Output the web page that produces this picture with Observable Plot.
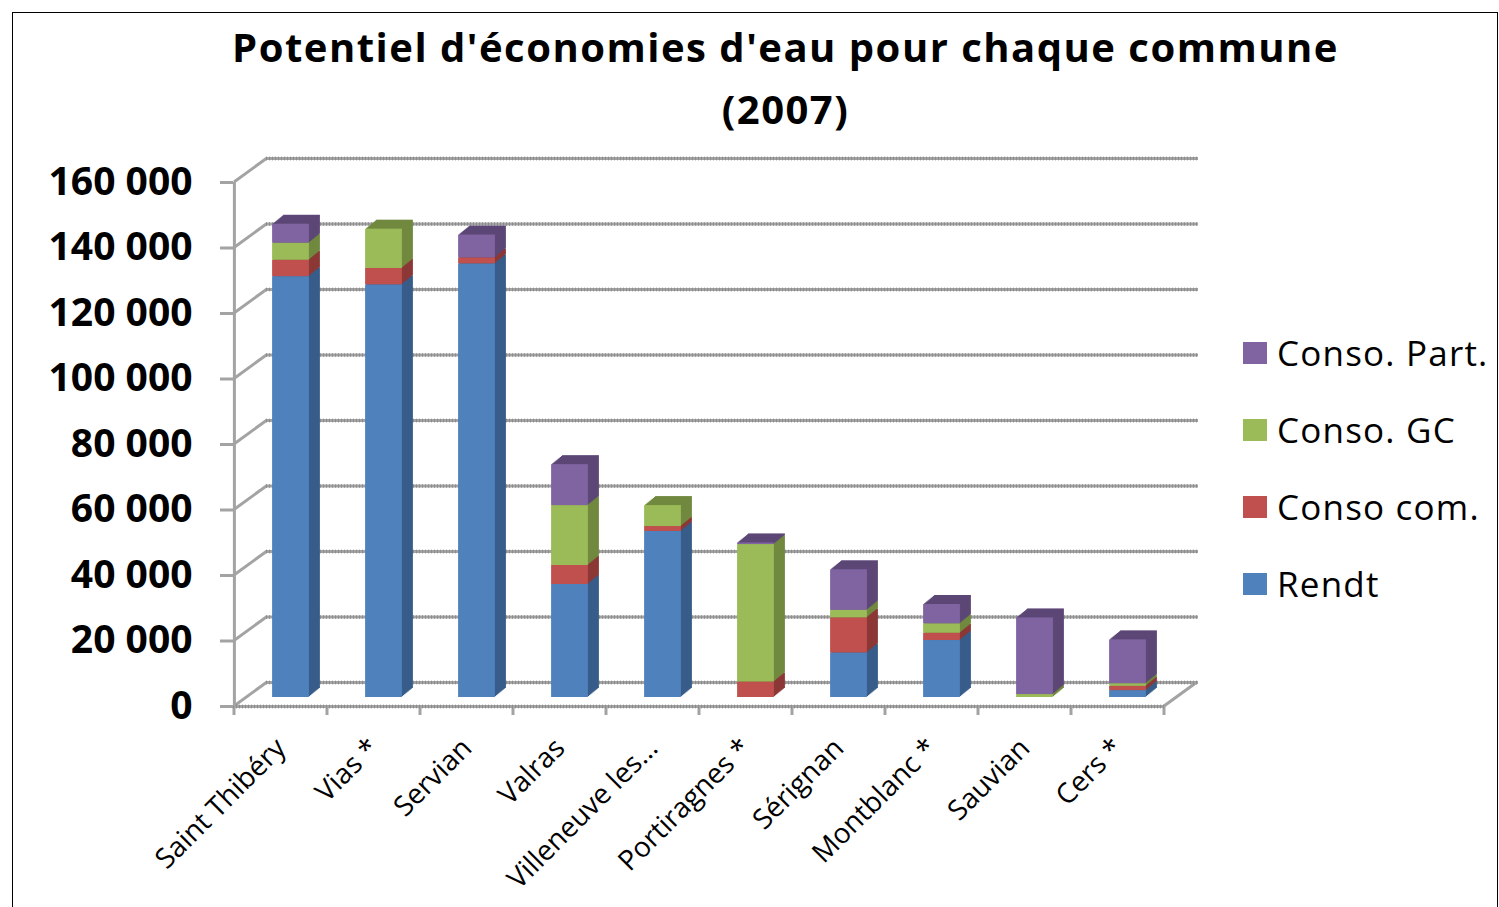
<!DOCTYPE html>
<html>
<head>
<meta charset="utf-8">
<script src="https://cdn.jsdelivr.net/npm/d3@7"></script>
<script src="https://cdn.jsdelivr.net/npm/@observablehq/plot@0.6"></script>
<style>
  html, body { margin: 0; padding: 0; background: #fff; }
  #wrap { position: relative; width: 1499px; height: 907px; overflow: hidden; font-family: "Open Sans", sans-serif; }
  #frame { position: absolute; left: 12px; top: 12px; width: 1486px; height: 920px; border: 1.5px solid #000; box-sizing: border-box; }
  #title { position: relative; height: 140px; text-align: center; font-weight: bold; font-size: 40px; letter-spacing: 1.5px; line-height: 62px; padding-top: 16px; box-sizing: border-box; color: #000; }
  #title div { position: relative; left: 36px; }
  #legend { position: absolute; left: 1243px; top: 330px; }
  .item { position: absolute; left: 0; height: 46px; white-space: nowrap; font-size: 35px; letter-spacing: 1.2px; color: #000; }
  .sw { position: absolute; left: 0; top: 12px; width: 24px; height: 22px; }
  .lab { position: absolute; left: 34px; top: 0; line-height: 46px; }
</style>
</head>
<body>
<div id="wrap">
  <div id="frame"></div>
  <div id="title"><div>Potentiel d'économies d'eau pour chaque commune</div><div>(2007)</div></div>
  <div id="chart"></div>
  <div id="legend"></div>
</div>
<script>
// ---- data ----
const communes = ["Saint Thibéry", "Vias *", "Servian", "Valras", "Villeneuve les…", "Portiragnes *", "Sérignan", "Montblanc *", "Sauvian", "Cers *"];
const series = ["Rendt", "Conso com.", "Conso. GC", "Conso. Part."];
const rendt     = [128500, 126000, 132400, 34500, 50700,     0, 13600, 17400,     0,  2100];
const consoCom  = [  5000,   5000,   1800,  5800,  1500,  4700, 10700,  2200,     0,  1300];
const consoGC   = [  5200,  12000,      0, 18300,  6400, 42000,  2300,  2900,   900,   800];
const consoPart = [  5800,      0,   7000, 12500,     0,   500, 12400,  5900, 23400, 13400];
const yTicks = [0, 20000, 40000, 60000, 80000, 100000, 120000, 140000, 160000];
const legendOrder = ["Conso. Part.", "Conso. GC", "Conso com.", "Rendt"];

// ---- styles ----
const frontColor = {"Rendt": "#4f81bd", "Conso com.": "#c0504d", "Conso. GC": "#9bbb59", "Conso. Part.": "#8064a2"};
const sideColor  = {"Rendt": "#385d8a", "Conso com.": "#8c3836", "Conso. GC": "#71893f", "Conso. Part.": "#5c4776"};
const gridColor = "#a3a3a3";

const values = [rendt, consoCom, consoGC, consoPart];
const data = [];
series.forEach((s, si) => communes.forEach((c, i) => data.push({commune: c, series: s, value: values[si][i]})));

const W = 1499, H = 767;
const mL = 233, mR = 334, mT = 42, mB = 201;
const step = (W - mL - mR) / communes.length;
const inset = (step - 37) / 2;
const barDx = 10, barDy = -9;        // bar position inside the depth
const wallDx = 33, wallDy = -24;     // back wall offset
const depthX = 11, depthY = 9;       // bar extrusion

const extrusion = [];
for (let k = 10; k >= 1; k--) {
  extrusion.push(Plot.barY(data, Plot.stackY({
    x: "commune", y: "value", z: "series",
    fill: d => sideColor[d.series],
    insetLeft: inset, insetRight: inset,
    dx: barDx + k * depthX / 10, dy: barDy - k * depthY / 10
  })));
}

const fmt = d => d3.format(",")(d).replace(/,/g, " ");

const plot = Plot.plot({
  width: W, height: H,
  marginLeft: mL, marginRight: mR, marginTop: mT, marginBottom: mB,
  x: {domain: communes, padding: 0, axis: null},
  y: {domain: [0, 160000], axis: null},
  style: {fontFamily: "Open Sans", background: "transparent", overflow: "visible"},
  marks: [
    Plot.ruleY(yTicks, {dx: wallDx, dy: wallDy, stroke: gridColor, strokeWidth: 3}),
    Plot.ruleY(yTicks, {dx: wallDx, dy: wallDy, stroke: "#7f7f7f", strokeWidth: 4, strokeDasharray: "1,2", strokeOpacity: 0.6}),
    Plot.ruleY([0], {stroke: gridColor, strokeWidth: 3}),
    Plot.ruleY([0], {stroke: "#7f7f7f", strokeWidth: 4, strokeDasharray: "1,2", strokeOpacity: 0.6}),
    Plot.ruleX([communes[0]], {y1: 0, y2: 160000, dx: -step / 2, stroke: gridColor, strokeWidth: 3}),
    ...extrusion,
    Plot.barY(data, Plot.stackY({
      x: "commune", y: "value", z: "series",
      fill: d => frontColor[d.series],
      insetLeft: inset, insetRight: inset,
      dx: barDx, dy: barDy
    })),
    Plot.axisY(yTicks, {
      tickFormat: fmt, tickSize: 13, tickPadding: 28, label: null,
      stroke: gridColor, strokeWidth: 3, fill: "#000",
      fontSize: 39, fontWeight: "bold", fontFamily: "Open Sans"
    }),
    Plot.axisX({
      tickRotate: -45, tickSize: 0, tickPadding: 37, dx: 0, label: null,
      fontSize: 28, fill: "#000", fontFamily: "Open Sans"
    })
  ]
});

document.getElementById("chart").appendChild(plot);

// 3D frame: side-wall diagonals, floor edges and floor ticks, positioned with Plot's scales
const X = plot.scale("x"), Y = plot.scale("y");
const svg = d3.select(plot);
const g = svg.insert("g", ":scope > :nth-child(2)").attr("stroke", gridColor).attr("stroke-width", 3).attr("fill", "none");
const x0 = X.apply(communes[0]);
const xEnd = X.apply(communes[communes.length - 1]) + X.bandwidth;
yTicks.forEach(t => {
  g.append("line").attr("x1", x0).attr("y1", Y.apply(t)).attr("x2", x0 + wallDx).attr("y2", Y.apply(t) + wallDy);
});
g.append("line").attr("x1", xEnd).attr("y1", Y.apply(0)).attr("x2", xEnd + wallDx).attr("y2", Y.apply(0) + wallDy);
communes.forEach(c => {
  const xb = X.apply(c);
  g.append("line").attr("x1", xb).attr("y1", Y.apply(0)).attr("x2", xb).attr("y2", Y.apply(0) + 9);
});
g.append("line").attr("x1", xEnd).attr("y1", Y.apply(0)).attr("x2", xEnd).attr("y2", Y.apply(0) + 9);

// legend
const legend = document.getElementById("legend");
legendOrder.forEach((s, i) => {
  const it = document.createElement("div");
  it.className = "item";
  it.style.top = (i * 77) + "px";
  it.innerHTML = `<div class="sw" style="background:${frontColor[s]}"></div><div class="lab">${s}</div>`;
  legend.appendChild(it);
});
</script>
</body>
</html>
